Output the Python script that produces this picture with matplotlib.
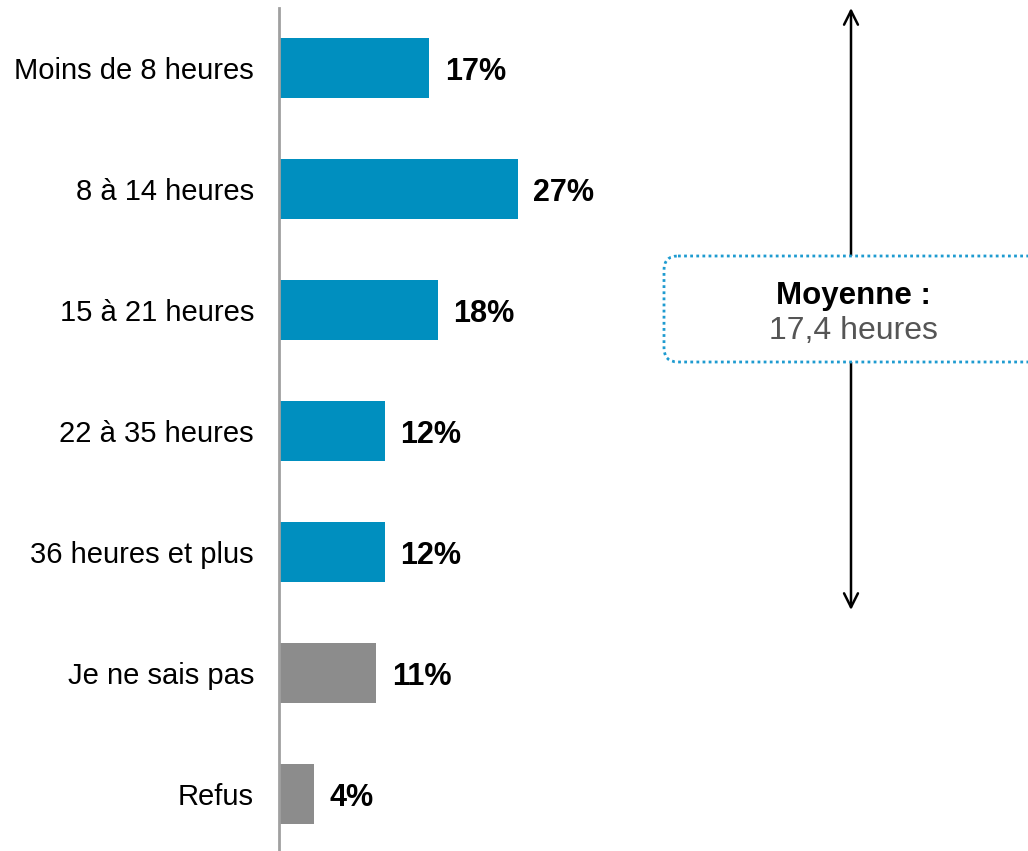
import matplotlib
matplotlib.use("Agg")
import matplotlib.pyplot as plt
from matplotlib.patches import FancyBboxPatch

plt.rcParams['font.family'] = ['Liberation Sans', 'DejaVu Sans']

categories = ["Moins de 8 heures", "8 à 14 heures", "15 à 21 heures",
              "22 à 35 heures", "36 heures et plus", "Je ne sais pas", "Refus"]
values = [17, 27, 18, 12, 12, 11, 4]
value_labels = ["17%", "27%", "18%", "12%", "12%", "11%", "4%"]
bar_colors = ["#008FBF"] * 5 + ["#8C8C8C"] * 2
mean_title = "Moyenne :"
mean_text = "17,4 heures"

W, H = 1028, 851
fig = plt.figure(figsize=(W / 100, H / 100), dpi=100)

# main bar axes: spans from x=279px to right edge, y from 8px to bottom
ax = fig.add_axes([279 / W, 0, 1 - 279 / W, (H - 8) / H])
y = list(range(len(categories)))
bars = ax.barh(y, values, height=0.5, color=bar_colors)
for yi, v, lab in zip(y, values, value_labels):
    ax.annotate(lab, xy=(v, yi), xytext=(11, -3), textcoords='offset points',
                fontsize=22, fontweight='bold', color='black',
                ha='left', va='center')
ax.set_xlim(0, (W - 279) / 8.85)
ax.set_ylim(-0.496 + (H - 8) / 121, -0.496)
ax.set_yticks(y)
ax.set_yticklabels(categories, fontsize=21)
ax.tick_params(axis='y', length=0, pad=18)
ax.set_xticks([])
for s in ['top', 'right', 'bottom']:
    ax.spines[s].set_visible(False)
ax.spines['left'].set_color('#A0A0A0')
ax.spines['left'].set_linewidth(2)

# overlay for annotation in pixel-like coordinates
ov = fig.add_axes([0, 0, 1, 1], zorder=5)
ov.set_xlim(0, W)
ov.set_ylim(H, 0)
ov.axis('off')
ov.patch.set_alpha(0)

ov.annotate("", xy=(851, 8), xytext=(851, 610),
            arrowprops=dict(arrowstyle='<->,head_length=1.0,head_width=0.5',
                            color='black', lw=1.8, shrinkA=0, shrinkB=0))

box = FancyBboxPatch((664, 256), 420, 106,
                     boxstyle="round,pad=0,rounding_size=14",
                     facecolor='white', edgecolor='#1E9BD0',
                     linewidth=2, linestyle=(0, (1, 1.2)), zorder=3,
                     clip_on=False)
ov.add_patch(box)
ov.text(853, 296, mean_title, fontsize=22.5, fontweight='bold',
        ha='center', va='center', color='black', zorder=4)
ov.text(853, 331, mean_text, fontsize=23, ha='center', va='center',
        color='#555555', zorder=4)

fig.savefig("out.png", dpi=100)
